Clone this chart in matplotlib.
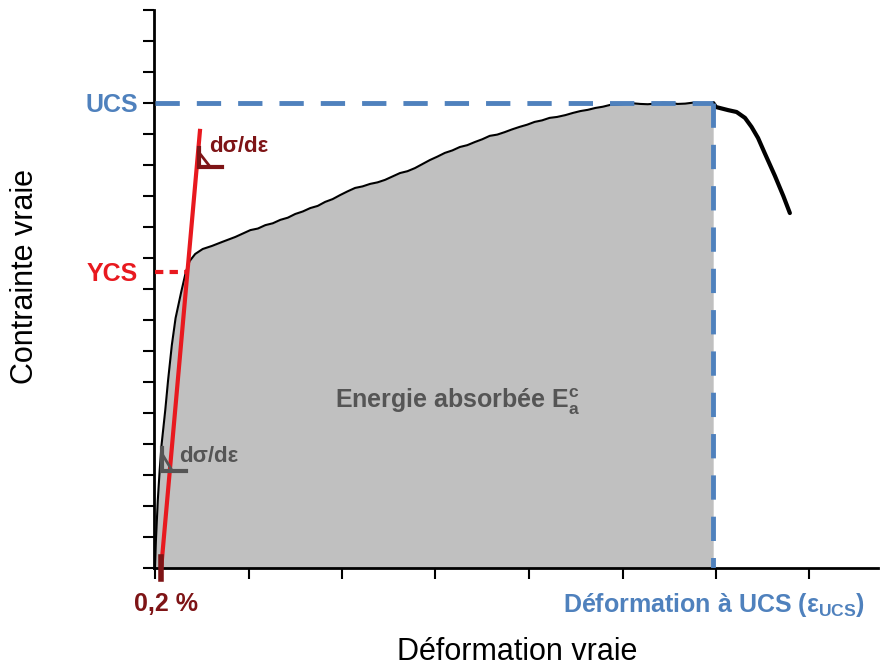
import matplotlib
matplotlib.use("Agg")
import matplotlib.pyplot as plt
import numpy as np

plt.rcParams['font.family'] = ['Liberation Sans', 'DejaVu Sans']
plt.rcParams['mathtext.fontset'] = 'custom'
plt.rcParams['mathtext.rm'] = 'Liberation Sans'
plt.rcParams['mathtext.bf'] = 'Liberation Sans:bold'
plt.rcParams['mathtext.it'] = 'Liberation Sans:italic'

# ---- data (arbitrary units: strain / stress) ----
strain = [0.00, 0.01, 0.03, 0.05, 0.07, 0.11, 0.14, 0.18, 0.22, 0.28, 0.33, 0.37,
          0.43, 0.51, 0.61, 0.72, 0.86, 1.02, 1.10, 1.18, 1.26, 1.34, 1.42, 1.50,
          1.58, 1.66, 1.74, 1.82, 1.90, 1.98, 2.06, 2.14, 2.22, 2.30, 2.38, 2.46,
          2.54, 2.62, 2.70, 2.78, 2.86, 2.94, 3.02, 3.10, 3.18, 3.26, 3.34, 3.42,
          3.50, 3.58, 3.66, 3.74, 3.82, 3.90, 3.98, 4.06, 4.14, 4.22, 4.30, 4.39,
          4.47, 4.55, 4.63, 4.71, 4.79, 4.87, 4.95, 5.03, 5.11, 5.19, 5.27, 5.35,
          5.43, 5.51, 5.59, 5.67, 5.75, 5.83, 5.90, 5.97]
stress = [0.03, 0.90, 2.19, 3.16, 3.97, 5.10, 6.06, 7.19, 8.06, 8.90, 9.55, 9.90,
          10.13, 10.29, 10.39, 10.52, 10.68, 10.90, 10.95, 11.06, 11.12, 11.23, 11.30, 11.42,
          11.50, 11.61, 11.68, 11.81, 11.90, 12.03, 12.15, 12.26, 12.31, 12.39, 12.44, 12.52,
          12.63, 12.74, 12.80, 12.90, 13.03, 13.16, 13.27, 13.39, 13.47, 13.58, 13.64, 13.74,
          13.83, 13.94, 13.98, 14.06, 14.15, 14.23, 14.30, 14.39, 14.44, 14.52, 14.55, 14.61,
          14.68, 14.74, 14.78, 14.84, 14.88, 14.94, 14.95, 14.97, 14.99, 14.97, 14.96, 14.98,
          15.01, 15.00, 14.97, 14.98, 15.01, 15.00, 14.99, 15.00]
post_strain = [5.97, 6.00, 6.13, 6.22, 6.31, 6.38, 6.45, 6.52, 6.63, 6.72, 6.79]
post_stress = [15.00, 14.87, 14.77, 14.71, 14.52, 14.23, 13.87, 13.39, 12.65, 12.00, 11.45]

eps_ucs = 5.97
ucs = 15.0
ycs = 9.55
ycs_strain = 0.35
offset_strain = 0.066   # 0,2 %
modulus = 34.0
mod_top_stress = 14.1

xticks = [0, 1, 2, 3, 4, 5, 6, 7]
yticks = list(range(0, 19))

# ---- colours ----
blue = '#4F81BD'
red = '#E8191F'
dred = '#7E1416'
gtext = '#555555'
gfill = '#C0C0C0'

W, H = 891, 666
fig = plt.figure(figsize=(W / 100, H / 100), dpi=100)
# axes: x pixel 155 -> 0, 93.5 px per unit; y pixel 568 -> 0, 31 px per unit
ax_l, ax_r, ax_b, ax_t = 154, 878, 568, 10
ax = fig.add_axes([ax_l / W, 1 - ax_b / H, (ax_r - ax_l) / W, (ax_b - ax_t) / H])
ax.set_xlim((ax_l - 155) / 93.5, (ax_r - 155) / 93.5)
ax.set_ylim(0, (ax_b - ax_t) / 31)

for s in ['top', 'right']:
    ax.spines[s].set_visible(False)
for s in ['left', 'bottom']:
    ax.spines[s].set_linewidth(2)
ax.set_xticks(xticks)
ax.set_yticks(yticks)
ax.tick_params(direction='out', length=8, width=1.5, labelbottom=False, labelleft=False)

# fill + curve
ax.fill_between(strain, 0, stress, color=gfill, lw=0, zorder=1)
ax.plot(strain, stress, color='black', lw=1.5, zorder=3)
ax.plot(post_strain, post_stress, color='black', lw=3, zorder=3, solid_capstyle='round')

# UCS dashed lines
ax.plot([0, eps_ucs], [ucs, ucs], color=blue, lw=3.5, dashes=(5, 3.5), zorder=4)
ax.plot([eps_ucs, eps_ucs], [ucs, 0], color=blue, lw=3.5, dashes=(5, 3.5), zorder=4)

# YCS dashed line
ax.plot([0, ycs_strain], [ycs, ycs], color=red, lw=3, dashes=(2, 1.5), zorder=4)

# modulus line (offset 0.2 %)
x_top = offset_strain + mod_top_stress / modulus
ax.plot([offset_strain, x_top], [0, mod_top_stress], color=red, lw=3, zorder=5)
ax.plot([offset_strain, offset_strain], [-0.35, 0.35], color=dred, lw=4, zorder=6, clip_on=False)

# slope symbols
def angle(x0, y0, w, h, d, col):
    ax.plot([x0, x0, x0 + w], [y0 + h, y0, y0], color=col, lw=3, zorder=6,
            solid_joinstyle='miter', clip_on=False)
    ax.plot([x0, x0 + d], [y0 + h * 0.75, y0], color=col, lw=2, zorder=6, clip_on=False)

angle(0.47, 12.94, 0.25, 0.62, 0.12, dred)
angle(0.075, 3.13, 0.26, 0.74, 0.11, gtext)

ax.text(0.58, 13.6, 'dσ/dε', color=dred, fontsize=16, fontweight='bold',
        ha='left', va='center', zorder=7)
ax.text(0.26, 3.6, 'dσ/dε', color=gtext, fontsize=16, fontweight='bold',
        ha='left', va='center', zorder=7)

ax.text(3.24, 5.35, r'Energie absorbée E$_{\mathbf{a}}^{\mathbf{c}}$', color=gtext,
        fontsize=18, fontweight='bold', ha='center', va='center', zorder=7)

# labels outside
def ft(x, y, s, **kw):
    fig.text(x / W, 1 - y / H, s, **kw)

ft(138, 105, 'UCS', color=blue, fontsize=18, fontweight='bold', ha='right', va='center')
ft(138, 274, 'YCS', color=red, fontsize=18, fontweight='bold', ha='right', va='center')
ft(166, 604, '0,2 %', color=dred, fontsize=18, fontweight='bold', ha='center', va='center')
ft(865, 605, r'Déformation à UCS (ε$_{\mathbf{UCS}}$)', color=blue, fontsize=18,
   fontweight='bold', ha='right', va='center')
ft(517, 652, 'Déformation vraie', color='black', fontsize=22, ha='center', va='center')
ft(25, 277, 'Contrainte vraie', color='black', fontsize=22, ha='center', va='center',
   rotation=90)

fig.savefig('out.png', dpi=100)
